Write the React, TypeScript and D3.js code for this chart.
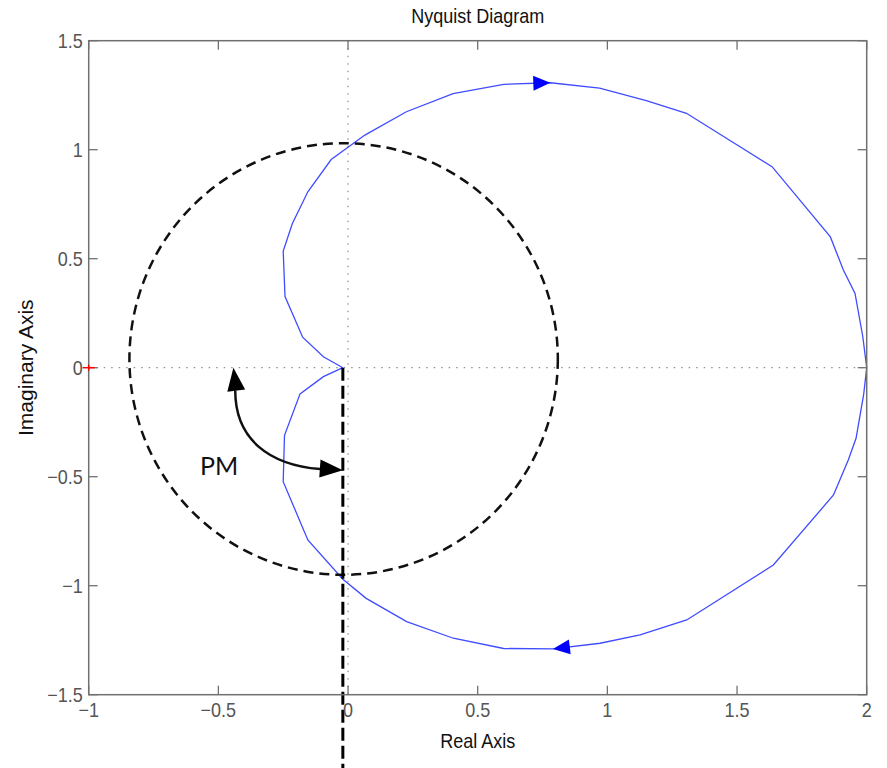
import React from "react";
import * as d3 from "d3";

// ---- data ----
const xTicks = [-1, -0.5, 0, 0.5, 1, 1.5, 2];
const xTickLabels = ["\u22121", "\u22120.5", "0", "0.5", "1", "1.5", "2"];
const yTicks = [-1.5, -1, -0.5, 0, 0.5, 1, 1.5];
const yTickLabels = ["\u22121.5", "\u22121", "\u22120.5", "0", "0.5", "1", "1.5"];

// Nyquist curve, traversal order (origin -> upper half -> (2,0) -> lower half -> origin)
const nyqRe = [
  -0.02, -0.095, -0.175, -0.215, -0.243, -0.25, -0.215, -0.155, -0.065, 0.065, 0.225, 0.405, 0.6, 0.78, 0.97, 1.15,
  1.305, 1.635, 1.86, 1.91, 1.955, 1.985, 2.0,
  1.988, 1.959, 1.929, 1.872, 1.64, 1.306, 1.126, 0.972, 0.79, 0.6, 0.406, 0.226, 0.07, -0.02, -0.155, -0.25,
  -0.245, -0.185, -0.095, -0.02,
];
const nyqIm = [
  0, 0.05, 0.14, 0.25, 0.326, 0.535, 0.66, 0.807, 0.955, 1.067, 1.174, 1.257, 1.3, 1.307, 1.282, 1.225,
  1.167, 0.922, 0.6, 0.448, 0.341, 0.142, 0,
  -0.125, -0.324, -0.423, -0.584, -0.905, -1.157, -1.226, -1.264, -1.29, -1.288, -1.241, -1.165, -1.058, -0.97,
  -0.79, -0.523, -0.31, -0.12, -0.041, 0,
];
const arrowIdx = [13, 31];

// dashed annotation circle (data units)
const circleCenter = [-0.017, 0.04];
const circleRadius = [0.826, 0.99];

// vertical dashed line
const vLineX = -0.02;
const vLineY = [0, -1.84];

// PM arrow (data units)
const pmUpTip = [-0.442, 0.0];
const pmCurve = [
  [-0.435, -0.105],
  [-0.435, -0.332],
  [-0.301, -0.446],
  [-0.108, -0.465],
];
const pmRightTip = [-0.02, -0.47];
const pmLabelPos = [-0.571, -0.492];
const criticalPoint = [-1, 0];

const W = 887;
const H = 768;
const FONT = "'Liberation Sans', Arial, Helvetica, sans-serif";

function arrowHead(tip: number[], from: number[], len: number, half: number) {
  const dx = tip[0] - from[0];
  const dy = tip[1] - from[1];
  const n = Math.hypot(dx, dy) || 1;
  const ux = dx / n, uy = dy / n;
  const bx = tip[0] - ux * len, by = tip[1] - uy * len;
  const px = -uy, py = ux;
  return `${tip[0]},${tip[1]} ${bx + px * half},${by + py * half} ${bx - px * half},${by - py * half}`;
}

export default function App() {
  const x = d3.scaleLinear().domain([-1, 2]).range([88.7, 866.7]);
  const y = d3.scaleLinear().domain([-1.5, 1.5]).range([694.7, 40.7]);
  const [x0, x1] = x.range();
  const [y0, y1] = y.range(); // y0 bottom, y1 top

  const pts: [number, number][] = nyqRe.map((r, i) => [x(r), y(nyqIm[i])]);
  const line = d3.line<[number, number]>().x((d) => d[0]).y((d) => d[1]);

  const tickLen = 9;
  const axisColor = "#707070";
  const labelColor = "#555";

  const pc = pmCurve.map((p) => [x(p[0]), y(p[1])]);
  const pmPath = `M${pc[0][0]},${pc[0][1]} C${pc[1][0]},${pc[1][1]} ${pc[2][0]},${pc[2][1]} ${pc[3][0]},${pc[3][1]}`;
  const upTip = [x(pmUpTip[0]), y(pmUpTip[1])];
  const rTip = [x(pmRightTip[0]), y(pmRightTip[1])];

  return (
    <svg
      width={W}
      height={H}
      style={{ position: "absolute", left: 0, top: 0, background: "#fff" }}
      fontFamily={FONT}
    >
      <rect x={0} y={0} width={W} height={H} fill="#fff" />
      {/* dotted zero axes */}
      <line x1={x0} x2={x1} y1={y(0)} y2={y(0)} stroke="#777" strokeWidth={1} strokeDasharray="1.5,6" />
      <line x1={x(0)} x2={x(0)} y1={y0} y2={y1} stroke="#777" strokeWidth={1} strokeDasharray="1.5,6" />

      {/* Nyquist curve */}
      <path d={line(pts) || ""} fill="none" stroke="#3f4cff" strokeWidth={1.3} />
      {arrowIdx.map((i) => (
        <polygon key={i} points={arrowHead(pts[i], pts[i - 1], 17, 7.5)} fill="#0000ff" />
      ))}

      {/* dashed circle */}
      <ellipse
        cx={x(circleCenter[0])}
        cy={y(circleCenter[1])}
        rx={x(circleCenter[0] + circleRadius[0]) - x(circleCenter[0])}
        ry={y(circleCenter[1] - circleRadius[1]) - y(circleCenter[1])}
        fill="none"
        stroke="#111"
        strokeWidth={2.5}
        strokeDasharray="10,6"
      />

      {/* vertical dashed line */}
      <line
        x1={x(vLineX)}
        x2={x(vLineX)}
        y1={y(vLineY[0])}
        y2={y(vLineY[1])}
        stroke="#000"
        strokeWidth={3}
        strokeDasharray="13,5"
      />

      {/* PM arrow */}
      <path d={pmPath} fill="none" stroke="#111" strokeWidth={2.5} />
      <polygon points={arrowHead(upTip, [pc[0][0] + 1, pc[0][1]], 23, 9)} fill="#000" />
      <polygon points={arrowHead(rTip, [pc[3][0], pc[3][1] - 0.5], 23, 9)} fill="#000" />
      <text
        x={x(pmLabelPos[0])}
        y={y(pmLabelPos[1])}
        fontFamily="Lato, 'Open Sans', sans-serif"
        fontSize={25}
        fill="#111"
      >
        PM
      </text>

      {/* axes box */}
      <rect x={x0} y={y1} width={x1 - x0} height={y0 - y1} fill="none" stroke={axisColor} strokeWidth={1.5} />
      {xTicks.map((t) => (
        <g key={"xt" + t}>
          <line x1={x(t)} x2={x(t)} y1={y0} y2={y0 - tickLen} stroke={axisColor} strokeWidth={1.3} />
          <line x1={x(t)} x2={x(t)} y1={y1} y2={y1 + tickLen} stroke={axisColor} strokeWidth={1.3} />
        </g>
      ))}
      {yTicks.map((t) => (
        <g key={"yt" + t}>
          <line x1={x0} x2={x0 + tickLen} y1={y(t)} y2={y(t)} stroke={axisColor} strokeWidth={1.3} />
          <line x1={x1} x2={x1 - tickLen} y1={y(t)} y2={y(t)} stroke={axisColor} strokeWidth={1.3} />
        </g>
      ))}
      {xTicks.map((t, i) => (
        <text
          key={"xl" + t}
          transform={`translate(${x(t)},${y0 + 22.5}) scale(0.9,1)`}
          textAnchor="middle"
          fontSize={20}
          fill={labelColor}
        >
          {xTickLabels[i]}
        </text>
      ))}
      {yTicks.map((t, i) => (
        <text
          key={"yl" + t}
          transform={`translate(${x0 - 6},${y(t) + 7}) scale(0.9,1)`}
          textAnchor="end"
          fontSize={20}
          fill={labelColor}
        >
          {yTickLabels[i]}
        </text>
      ))}

      {/* critical point marker */}
      <line
        x1={x(criticalPoint[0]) - 6}
        x2={x(criticalPoint[0]) + 6}
        y1={y(criticalPoint[1])}
        y2={y(criticalPoint[1])}
        stroke="#ff0000"
        strokeWidth={1.5}
      />
      <line
        x1={x(criticalPoint[0])}
        x2={x(criticalPoint[0])}
        y1={y(criticalPoint[1]) - 3}
        y2={y(criticalPoint[1]) + 3}
        stroke="#ff0000"
        strokeWidth={1.5}
      />

      {/* titles */}
      <text
        transform={`translate(${(x0 + x1) / 2},22.5) scale(0.9,1)`}
        textAnchor="middle"
        fontSize={20}
        fill="#111"
      >
        Nyquist Diagram
      </text>
      <text
        transform={`translate(${(x0 + x1) / 2},748) scale(0.9,1)`}
        textAnchor="middle"
        fontSize={20}
        fill="#111"
      >
        Real Axis
      </text>
      <text
        transform={`translate(33,${(y0 + y1) / 2}) rotate(-90)`}
        textAnchor="middle"
        fontSize={21}
        fill="#111"
      >
        Imaginary Axis
      </text>
    </svg>
  );
}
